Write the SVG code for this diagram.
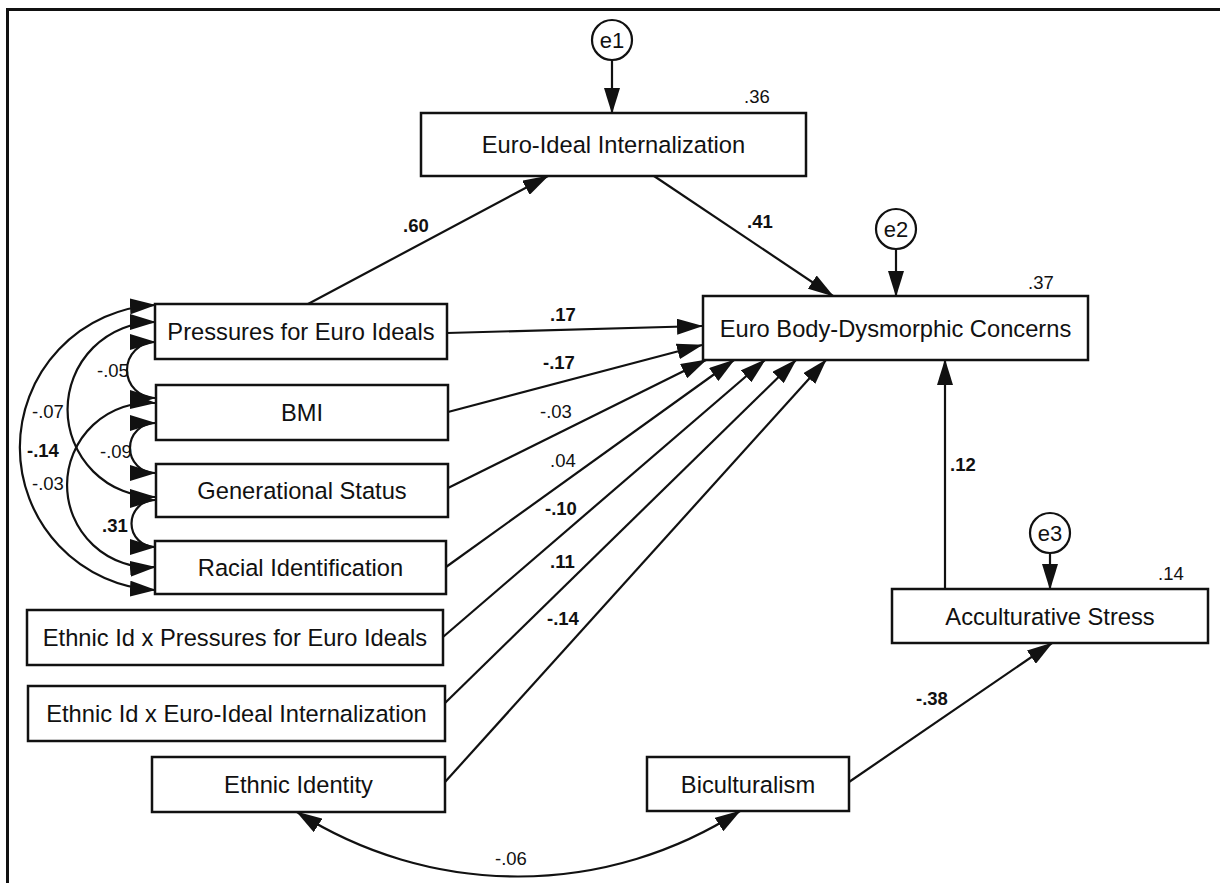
<svg xmlns="http://www.w3.org/2000/svg" width="1220" height="883" viewBox="0 0 1220 883">
<defs>
<style>
.box{fill:#fff;stroke:#111;stroke-width:2.5}
.lbl{font-family:"Liberation Sans",Arial,sans-serif;font-size:23.7px;fill:#111;text-anchor:middle}
.num{font-family:"Liberation Sans",Arial,sans-serif;font-size:18.5px;fill:#111}
.b{font-weight:bold}
.ln{fill:none;stroke:#111;stroke-width:2.2}
.err{fill:#fff;stroke:#111;stroke-width:2.2}
.elbl{font-family:"Liberation Sans",Arial,sans-serif;font-size:22px;fill:#111;text-anchor:middle}
</style>
<marker id="ah" markerUnits="userSpaceOnUse" viewBox="0 0 26 16" markerWidth="26" markerHeight="16" refX="25" refY="8" orient="auto-start-reverse">
<path d="M0,0 L26,8 L0,16 z" fill="#111"/>
</marker>
</defs>
<rect x="0" y="0" width="1220" height="883" fill="#fff"/>
<rect x="7.5" y="9.5" width="1230" height="900" fill="none" stroke="#111" stroke-width="3"/>

<g id="connectors">
<line class="ln" x1="612" y1="60" x2="612" y2="113" marker-end="url(#ah)"/>
<line class="ln" x1="896" y1="249" x2="896" y2="296" marker-end="url(#ah)"/>
<line class="ln" x1="1050" y1="553" x2="1050" y2="589" marker-end="url(#ah)"/>
<line class="ln" x1="308" y1="304" x2="548" y2="176" marker-end="url(#ah)"/>
<line class="ln" x1="654" y1="176" x2="833" y2="296" marker-end="url(#ah)"/>
<line class="ln" x1="447" y1="333" x2="702" y2="326" marker-end="url(#ah)"/>
<line class="ln" x1="448" y1="412" x2="702" y2="345" marker-end="url(#ah)"/>
<line class="ln" x1="448" y1="488" x2="706" y2="360" marker-end="url(#ah)"/>
<line class="ln" x1="446" y1="567" x2="734" y2="360" marker-end="url(#ah)"/>
<line class="ln" x1="443" y1="637" x2="765" y2="360" marker-end="url(#ah)"/>
<line class="ln" x1="445" y1="703" x2="796" y2="360" marker-end="url(#ah)"/>
<line class="ln" x1="445" y1="782" x2="826" y2="360" marker-end="url(#ah)"/>
<line class="ln" x1="945" y1="589" x2="945" y2="360" marker-end="url(#ah)"/>
<line class="ln" x1="849" y1="782" x2="1052" y2="643" marker-end="url(#ah)"/>
<path class="ln" d="M155,342 A28,28 0 0 0 155,398" marker-start="url(#ah)" marker-end="url(#ah)"/>
<path class="ln" d="M155,423 A25,25 0 0 0 155,473" marker-start="url(#ah)" marker-end="url(#ah)"/>
<path class="ln" d="M155,500 A23.5,23.5 0 0 0 155,547" marker-start="url(#ah)" marker-end="url(#ah)"/>
<path class="ln" d="M155,322 A87.5,87.5 0 0 0 155,497" marker-start="url(#ah)" marker-end="url(#ah)"/>
<path class="ln" d="M155,403 A82.2,82.2 0 1 0 155,567" marker-start="url(#ah)" marker-end="url(#ah)"/>
<path class="ln" d="M155,305 A142.7,142.7 0 0 0 155,590" marker-start="url(#ah)" marker-end="url(#ah)"/>
<path class="ln" d="M297,812 A410,410 0 0 0 740,811" marker-start="url(#ah)" marker-end="url(#ah)"/>
</g>

<g id="labels">
<text class="num" x="744" y="103">.36</text>
<text class="num" x="1028" y="289">.37</text>
<text class="num" x="1158" y="580">.14</text>
<text class="num b" x="403" y="232">.60</text>
<text class="num b" x="747" y="228">.41</text>
<text class="num b" x="550" y="321">.17</text>
<text class="num b" x="543" y="369">-.17</text>
<text class="num" x="540" y="418">-.03</text>
<text class="num" x="550" y="467">.04</text>
<text class="num b" x="545" y="515">-.10</text>
<text class="num b" x="550" y="568">.11</text>
<text class="num b" x="547" y="625">-.14</text>
<text class="num" x="495" y="865">-.06</text>
<text class="num b" x="950" y="471">.12</text>
<text class="num b" x="916" y="705">-.38</text>
<text class="num" x="97" y="377">-.05</text>
<text class="num" x="32" y="418">-.07</text>
<text class="num b" x="27" y="457">-.14</text>
<text class="num" x="100" y="458">-.09</text>
<text class="num" x="32" y="490">-.03</text>
<text class="num b" x="102" y="532">.31</text>
</g>

<g id="e1"><circle class="err" cx="612" cy="40" r="20"/><text class="elbl" x="612" y="48">e1</text></g>
<g id="e2"><circle class="err" cx="896" cy="229" r="20"/><text class="elbl" x="896" y="237">e2</text></g>
<g id="e3"><circle class="err" cx="1050" cy="533" r="20"/><text class="elbl" x="1050" y="541">e3</text></g>

<g id="internalization"><rect class="box" x="421" y="113" width="385" height="63"/><text class="lbl" x="613.5" y="153">Euro-Ideal Internalization</text></g>
<g id="ebdc"><rect class="box" x="703" y="296" width="385" height="64"/><text class="lbl" x="895.5" y="336.5">Euro Body-Dysmorphic Concerns</text></g>
<g id="pressures"><rect class="box" x="155" y="304" width="292" height="55"/><text class="lbl" x="301" y="340">Pressures for Euro Ideals</text></g>
<g id="bmi"><rect class="box" x="156" y="385" width="292" height="55"/><text class="lbl" x="302" y="421">BMI</text></g>
<g id="generational"><rect class="box" x="156" y="464" width="292" height="53"/><text class="lbl" x="302" y="499">Generational Status</text></g>
<g id="racial"><rect class="box" x="155" y="541" width="291" height="53"/><text class="lbl" x="300.5" y="576">Racial Identification</text></g>
<g id="ethpress"><rect class="box" x="27" y="610" width="416" height="55"/><text class="lbl" x="235" y="646">Ethnic Id x Pressures for Euro Ideals</text></g>
<g id="etheuro"><rect class="box" x="28" y="686" width="417" height="55"/><text class="lbl" x="236.5" y="722">Ethnic Id x Euro-Ideal Internalization</text></g>
<g id="ethid"><rect class="box" x="152" y="757" width="293" height="55"/><text class="lbl" x="298.5" y="793">Ethnic Identity</text></g>
<g id="bicult"><rect class="box" x="647" y="757" width="202" height="54"/><text class="lbl" x="748" y="792.5">Biculturalism</text></g>
<g id="accult"><rect class="box" x="892" y="589" width="316" height="54"/><text class="lbl" x="1050" y="624.5">Acculturative Stress</text></g>
</svg>
